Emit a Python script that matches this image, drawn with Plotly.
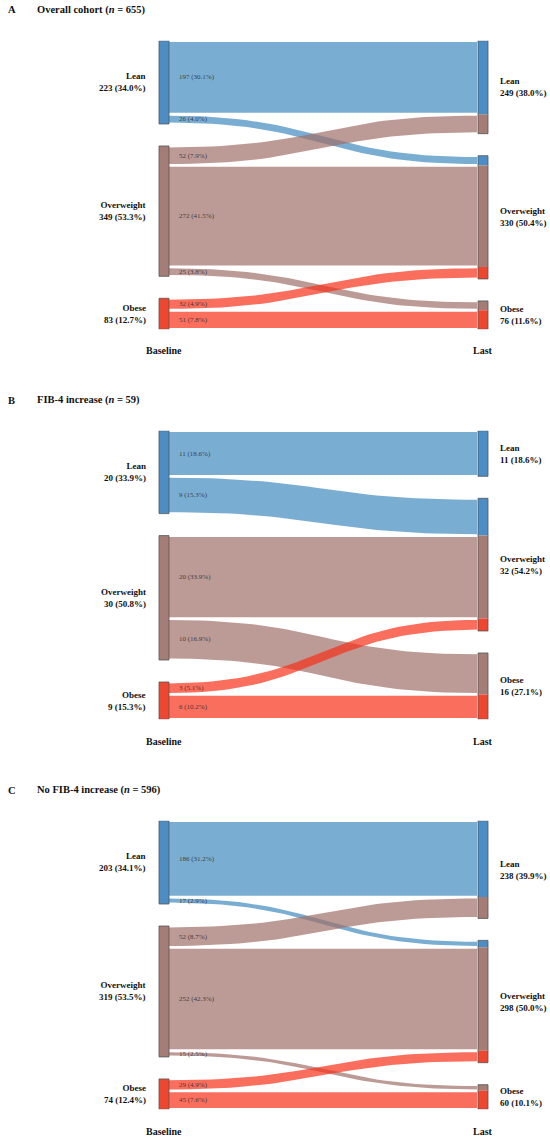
import numpy as np
import plotly.graph_objects as go

# BMI categories and the three cohorts (rows: baseline, cols: last)
categories = ["Lean", "Overweight", "Obese"]
stage_labels = ["Baseline", "Last"]
panel_letters = ["A", "B", "C"]
panel_titles = ["Overall cohort", "FIB-4 increase", "No FIB-4 increase"]

flows_overall = [[197, 26, 0],
                 [52, 272, 25],
                 [0, 32, 51]]
flows_fib4_increase = [[11, 9, 0],
                       [0, 20, 10],
                       [0, 3, 6]]
flows_no_fib4_increase = [[186, 17, 0],
                          [52, 252, 15],
                          [0, 29, 45]]
panel_flows = [flows_overall, flows_fib4_increase, flows_no_fib4_increase]

node_colors = ["#4b8dc4", "#a47d76", "#ef4630"]
link_colors = ["rgba(65,138,191,0.7)", "rgba(159,111,105,0.7)", "rgba(246,48,24,0.7)"]

FONT = "Liberation Serif"
W, H = 550, 1141
PANEL_TOP = [40.7, 430.7, 820.7]   # px from top of page
NODE_SPAN = 288.6
NODE_GAP = 22
LEFT_X = (159, 169)
RIGHT_X = (478, 488)
INSET = 1.4

fig = go.Figure()
annotations = []
shapes = []


def bezier_edge(x0, x1, y0, y1, n=40):
    t = np.linspace(0, 1, n)
    xm = (x0 + x1) / 2
    x = (1 - t) ** 3 * x0 + 3 * (1 - t) ** 2 * t * xm + 3 * (1 - t) * t ** 2 * xm + t ** 3 * x1
    y = (1 - t) ** 3 * y0 + 3 * (1 - t) ** 2 * t * y0 + 3 * (1 - t) * t ** 2 * y1 + t ** 3 * y1
    return x, y


for p, flows in enumerate(panel_flows):
    flows = np.array(flows)
    total = flows.sum()
    src_tot = flows.sum(axis=1)
    tgt_tot = flows.sum(axis=0)
    scale = (NODE_SPAN - 2 * NODE_GAP) / total
    gap = NODE_GAP / scale
    inset = INSET / scale
    yname = "y" if p == 0 else "y%d" % (p + 1)
    axname = "yaxis" if p == 0 else "yaxis%d" % (p + 1)
    top = PANEL_TOP[p]
    fig.update_layout(**{axname: dict(
        domain=[1 - (top + NODE_SPAN) / H, 1 - top / H],
        range=[total + 2 * gap, 0], visible=False, fixedrange=True)})

    src_y = [sum(src_tot[:k]) + k * gap for k in range(3)]
    tgt_y = [sum(tgt_tot[:k]) + k * gap for k in range(3)]

    # links
    src_off = list(src_y)
    tgt_off = list(tgt_y)
    link_pos = {}
    for i in range(3):
        for j in range(3):
            v = flows[i, j]
            if v == 0:
                continue
            link_pos[(i, j)] = (src_off[i], tgt_off[j])
            src_off[i] += v
            tgt_off[j] += v
    for i in range(3):
        for j in range(3):
            if (i, j) not in link_pos:
                continue
            v = flows[i, j]
            s0, t0 = link_pos[(i, j)]
            xt, yt = bezier_edge(LEFT_X[1], RIGHT_X[0] - 1, s0 + inset, t0 + inset)
            xb, yb = bezier_edge(LEFT_X[1], RIGHT_X[0] - 1, s0 + v - inset, t0 + v - inset)
            fig.add_trace(go.Scatter(
                x=np.concatenate([xt, xb[::-1]]),
                y=np.concatenate([yt, yb[::-1]]),
                mode="lines", line=dict(width=0), fill="toself",
                fillcolor=link_colors[i], hoverinfo="skip",
                showlegend=False, xaxis="x", yaxis=yname))
            annotations.append(dict(
                x=LEFT_X[1] + 7.5, y=s0 + v / 2, xref="x", yref=yname,
                text="%d (%.1f%%)" % (v, 100 * v / total), showarrow=False,
                xanchor="left", yanchor="middle",
                font=dict(family=FONT, size=7, color="rgba(40,40,40,0.85)")))

    # nodes
    for k in range(3):
        shapes.append(dict(type="rect", xref="x", yref=yname,
                           x0=LEFT_X[0], x1=LEFT_X[1], y0=src_y[k], y1=src_y[k] + src_tot[k],
                           fillcolor=node_colors[k], line=dict(color="#555555", width=0.8)))
        seg = tgt_y[k]
        for i in range(3):
            v = flows[i, k]
            if v == 0:
                continue
            shapes.append(dict(type="rect", xref="x", yref=yname,
                               x0=RIGHT_X[0], x1=RIGHT_X[1], y0=seg, y1=seg + v,
                               fillcolor=node_colors[i], line=dict(width=0)))
            seg += v
        shapes.append(dict(type="rect", xref="x", yref=yname,
                           x0=RIGHT_X[0], x1=RIGHT_X[1], y0=tgt_y[k], y1=tgt_y[k] + tgt_tot[k],
                           line=dict(color="#555555", width=0.8)))
        annotations.append(dict(
            x=LEFT_X[0] - 11, y=src_y[k] + src_tot[k] / 2, xref="x", yref=yname,
            text="<b>%s</b><br><b>%d (%.1f%%)</b>" % (categories[k], src_tot[k], 100 * src_tot[k] / total),
            showarrow=False, xanchor="right", yanchor="middle", align="right",
            font=dict(family=FONT, size=9, color="#111111")))
        annotations.append(dict(
            x=RIGHT_X[1] + 10, y=tgt_y[k] + tgt_tot[k] / 2, xref="x", yref=yname,
            text="<b>%s</b><br><b>%d (%.1f%%)</b>" % (categories[k], tgt_tot[k], 100 * tgt_tot[k] / total),
            showarrow=False, xanchor="left", yanchor="middle", align="left",
            font=dict(family=FONT, size=9, color="#111111")))

    # stage labels and panel title
    for s, xs in enumerate([LEFT_X, RIGHT_X]):
        annotations.append(dict(
            x=(xs[0] + xs[1]) / 2, y=1 - (top + 310.3) / H, xref="x", yref="paper",
            text="<b>%s</b>" % stage_labels[s], showarrow=False,
            xanchor="center", yanchor="middle",
            font=dict(family=FONT, size=10, color="#111111")))
    annotations.append(dict(
        x=6 / W, y=1 - (top - 30.7) / H, xref="paper", yref="paper",
        text="<b>%s</b>" % panel_letters[p], showarrow=False,
        xanchor="left", yanchor="middle",
        font=dict(family=FONT, size=10.5, color="#111111")))
    annotations.append(dict(
        x=35 / W, y=1 - (top - 30.7) / H, xref="paper", yref="paper",
        text="<b>%s (<i>n</i> = %d)</b>" % (panel_titles[p], total), showarrow=False,
        xanchor="left", yanchor="middle",
        font=dict(family=FONT, size=10.5, color="#111111")))

fig.update_layout(
    width=W, height=H,
    margin=dict(l=0, r=0, t=0, b=0),
    paper_bgcolor="white", plot_bgcolor="white",
    xaxis=dict(range=[0, W], visible=False, fixedrange=True, domain=[0, 1]),
    shapes=shapes, annotations=annotations,
    showlegend=False,
)

# drop the browser's default page margin so the figure fills the window
fig.write_html("out.html", config={"displayModeBar": False},
               post_script="document.body.style.margin='0';document.body.style.overflow='hidden';")
